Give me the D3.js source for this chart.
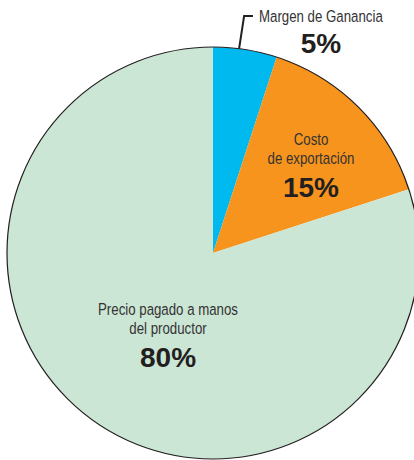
<!DOCTYPE html>
<html>
<head>
<meta charset="utf-8">
<script src="https://cdn.jsdelivr.net/npm/d3@7"></script>
<style>
  body { margin: 0; background: #fff; }
  .lbl { font-family: "Liberation Sans", Arial, sans-serif; fill: #333; }
  .pct { font-family: "Liberation Sans", Arial, sans-serif; font-weight: bold; fill: #231f20; }
</style>
</head>
<body>
<div id="chart-area"></div>
<script>
// --- Data ---
var categories = ["Margen de Ganancia", "Costo de exportación", "Precio pagado a manos del productor"];
var values = [5, 15, 80];
var colors = ["#00b9ef", "#f7941d", "#cce6d5"];
var labelLines = [["Margen de Ganancia"], ["Costo", "de exportación"], ["Precio pagado a manos", "del productor"]];

// --- Setup the canvas ---
var width = 414, height = 460;
var cx = 213, cy = 253, radius = 206;
var squeeze = 0.78; // fake a condensed face

var svg = d3.select("#chart-area").append("svg")
    .attr("width", width)
    .attr("height", height);

var group = svg.append("g")
    .attr("transform", "translate(" + cx + ", " + cy + ")");

var data = categories.map((c, i) => { return {name: c, value: values[i], color: colors[i], lines: labelLines[i]}; });

var pie = d3.pie().sort(null).value((d) => { return d.value; });
var arc = d3.arc().innerRadius(0).outerRadius(radius);
var arcs = pie(data);

// slices
group.selectAll("path.slice").data(arcs).enter()
    .append("path")
        .attr("class", "slice")
        .attr("d", arc)
        .attr("fill", (d) => { return d.data.color; });

// outline of the whole pie
group.append("circle")
    .attr("r", radius)
    .attr("fill", "none")
    .attr("stroke", "#231f20")
    .attr("stroke-width", 1.2);

// --- Labels ---
// offsets of the first baseline from the pie center
var place = [null, {x: 98, y: -108}, {x: -45, y: 62}];

arcs.forEach((d, i) => {
    if (i === 0) return;
    var p = place[i];
    var t = group.append("g")
        .attr("transform", "translate(" + p.x + "," + p.y + ") scale(" + squeeze + ",1)")
        .append("text")
        .attr("class", "lbl")
        .attr("text-anchor", "middle")
        .attr("font-size", "17px");
    d.data.lines.forEach((ln, j) => {
        t.append("tspan").attr("x", 0).attr("y", j * 19.5).text(ln);
    });
    group.append("text")
        .attr("class", "pct")
        .attr("text-anchor", "middle")
        .attr("font-size", "28px")
        .attr("x", p.x)
        .attr("y", p.y + 52)
        .text(d.data.value + "%");
});

// small slice: leader line out to the top label
var small = arcs[0];
var mid = (small.startAngle + small.endAngle) / 2;
var ex = Math.sin(mid - 0.03) * radius, ey = -Math.cos(mid - 0.03) * radius;
group.append("path")
    .attr("d", "M" + ex + "," + ey + "L" + (ex + 5) + "," + (16 - cy) + "L" + (253 - cx) + "," + (16 - cy))
    .attr("fill", "none")
    .attr("stroke", "#231f20")
    .attr("stroke-width", 2);

svg.append("g")
    .attr("transform", "translate(259,22) scale(" + squeeze + ",1)")
    .append("text")
    .attr("class", "lbl")
    .attr("font-size", "17px")
    .text(small.data.lines[0]);

svg.append("text")
    .attr("class", "pct")
    .attr("text-anchor", "middle")
    .attr("font-size", "28px")
    .attr("x", 321)
    .attr("y", 53)
    .text(small.data.value + "%");
</script>
</body>
</html>
